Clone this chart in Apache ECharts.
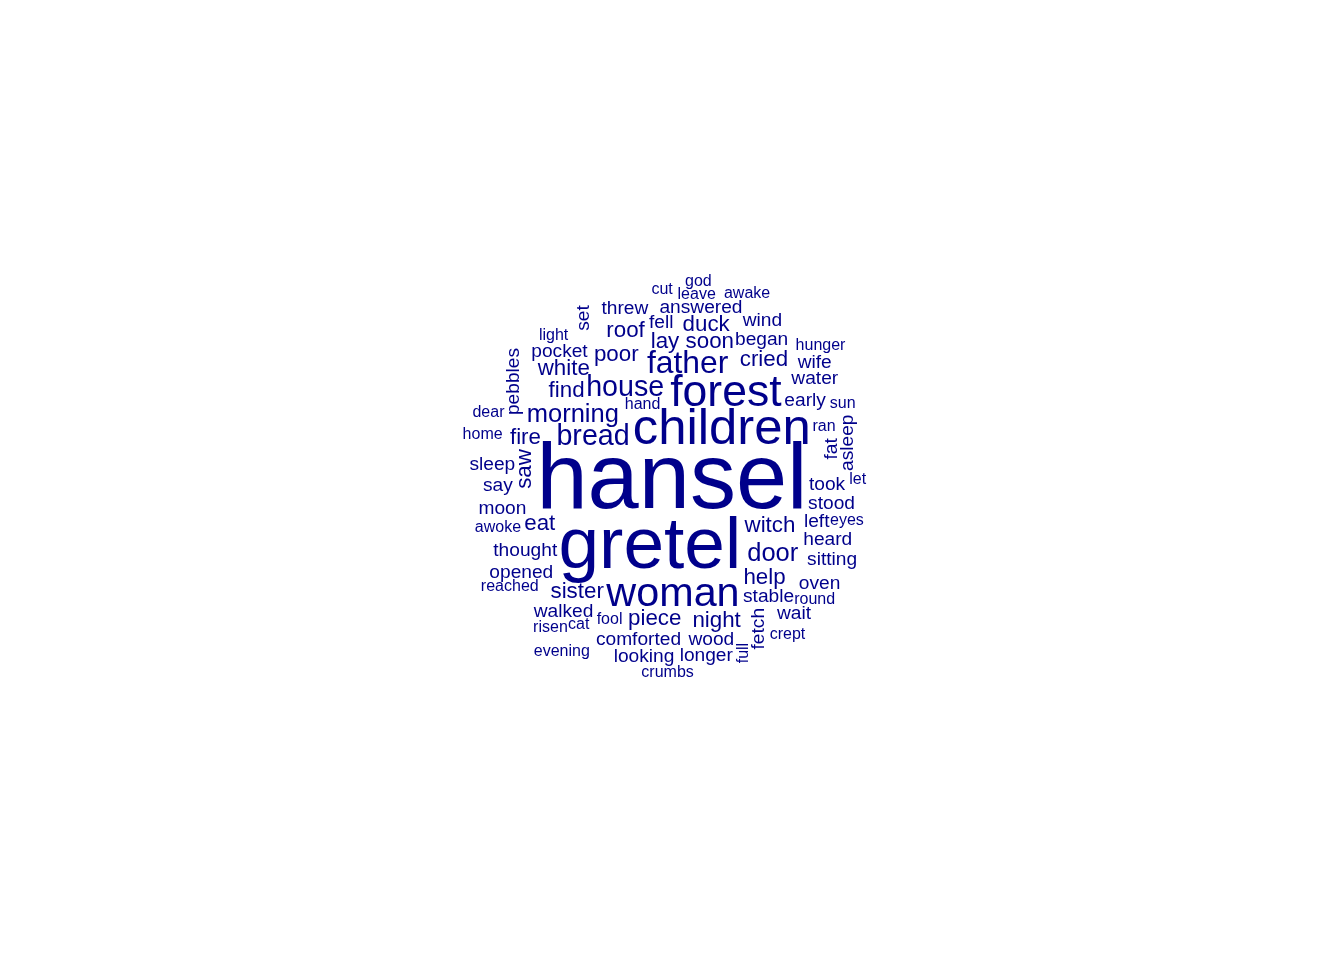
<!DOCTYPE html>
<html>
<head>
<meta charset="utf-8">
<title>Hansel and Gretel word cloud</title>
<script src="https://cdn.jsdelivr.net/npm/echarts@6/dist/echarts.min.js"></script>
<style>
    html, body { margin: 0; padding: 0; background: #fff; }
    .box { width: 1344px; height: 960px; }
</style>
</head>
<body>
<div class="box"></div>
<script>
// words and how often they occur, most frequent first
var words = [
    "hansel", "gretel", "children", "forest", "woman", "father", "house", "bread",
    "morning", "door", "witch", "help", "poor", "piece", "soon", "sister", "cried",
    "lay", "night", "white", "find", "duck", "fire", "eat", "roof", "saw",
    "pocket", "thought", "answered", "moon", "comforted", "stable", "walked", "heard",
    "early", "fetch", "stood", "looking", "wood", "took", "oven", "pebbles", "opened",
    "asleep", "began", "longer", "water", "left", "sitting", "threw", "fell", "wind",
    "sleep", "wait", "set", "say", "wife", "fat",
    "round", "home", "awoke", "sun", "reached", "hunger", "leave", "ran", "cat",
    "light", "crept", "eyes", "hand", "awake", "dear", "crumbs", "let", "fool",
    "full", "cut", "risen", "god", "evening"
];
var freqs = [
    28, 22, 15, 13, 12, 9, 8, 8,
    7, 7, 6, 6, 6, 6, 6, 6, 6,
    6, 6, 6, 6, 6, 6, 6, 6, 6,
    5, 5, 5, 5, 5, 5, 5, 5,
    5, 5, 5, 5, 5, 5, 5, 5, 5,
    5, 5, 5, 5, 5, 5, 5, 5, 5,
    5, 5, 5, 5, 5, 5,
    4, 4, 4, 4, 4, 4, 4, 4, 4,
    4, 4, 4, 4, 4, 4, 4, 4, 4,
    4, 4, 4, 4, 4
];
// words drawn vertically
var rotatedWords = ["saw", "fat", "asleep", "set", "pebbles", "full", "fetch"];

(function () {
    var myChart = echarts.init(document.querySelector(".box"));

    var fontFamily = "'Liberation Sans', Arial, sans-serif";
    var minFont = 16, maxFont = 92;
    var side = 960;            // pixel size of the unit square the layout works in
    var ctx = document.createElement("canvas").getContext("2d");
    var fmin = Math.min.apply(null, freqs);
    var fmax = Math.max.apply(null, freqs);

    // spiral placement like R's wordcloud: start in the middle, walk outwards
    var boxes = [];
    var points = [];
    function overlaps(x, y, w, h) {
        for (var k = 0; k < boxes.length; k++) {
            var b = boxes[k];
            if (x < b[0] + b[2] && x + w > b[0] && y < b[1] + b[3] && y + h > b[1]) return true;
        }
        return false;
    }
    // each word starts its spiral one golden angle further round
    var startAngle = Math.PI / 2 - 2.39996;
    for (var i = 0; i < words.length; i++) {
        var size = minFont + (freqs[i] - fmin) / (fmax - fmin) * (maxFont - minFont);
        ctx.font = size + "px " + fontFamily;
        var wid = ctx.measureText(words[i]).width / side;
        var ht = size * 0.716 / side;
        if (/[gjpqy]/.test(words[i])) ht = ht * 1.2;
        var rot = rotatedWords.indexOf(words[i]) >= 0;
        if (rot) { var t = wid; wid = ht; ht = t; }

        var theta = startAngle + i * 2.39996, r = 0, x = 0.5, y = 0.5;
        while (true) {
            var bx = x - wid / 2, by = y - ht / 2;
            if (!overlaps(bx, by, wid, ht) && bx > 0 && by > 0 && bx + wid < 1 && by + ht < 1) {
                boxes.push([bx, by, wid, ht]);
                // centre on the capital height rather than the em box
                var shift = size * 0.032;
                points.push({
                    name: words[i],
                    value: [x, y, freqs[i]],
                    label: {
                        fontSize: size,
                        rotate: rot ? 90 : 0,
                        offset: rot ? [shift, 0] : [0, shift]
                    }
                });
                break;
            }
            if (r > Math.SQRT1_2) break;
            theta += 0.1;
            r += 0.05 * 0.1 / (2 * Math.PI);
            x = 0.5 + r * Math.cos(theta);
            y = 0.5 + r * Math.sin(theta);
        }
    }

    option = {
        animation: false,
        // square plotting area in the middle, like asp = 1
        grid: { left: 192, right: 192, top: 0, bottom: 0, containLabel: false },
        xAxis: { type: "value", min: 0, max: 1, show: false },
        yAxis: { type: "value", min: 0, max: 1, show: false },
        series: [
            {
                type: "scatter",
                symbolSize: 0,
                silent: true,
                itemStyle: { opacity: 1 },
                label: {
                    show: true,
                    position: "inside",
                    formatter: "{b}",
                    color: "#00008B",
                    opacity: 1,
                    fontFamily: fontFamily,
                    align: "center",
                    verticalAlign: "middle"
                },
                data: points
            }
        ]
    };

    myChart.setOption(option);

    window.addEventListener("resize", function () {
        myChart.resize();
    });
})();
</script>
</body>
</html>
